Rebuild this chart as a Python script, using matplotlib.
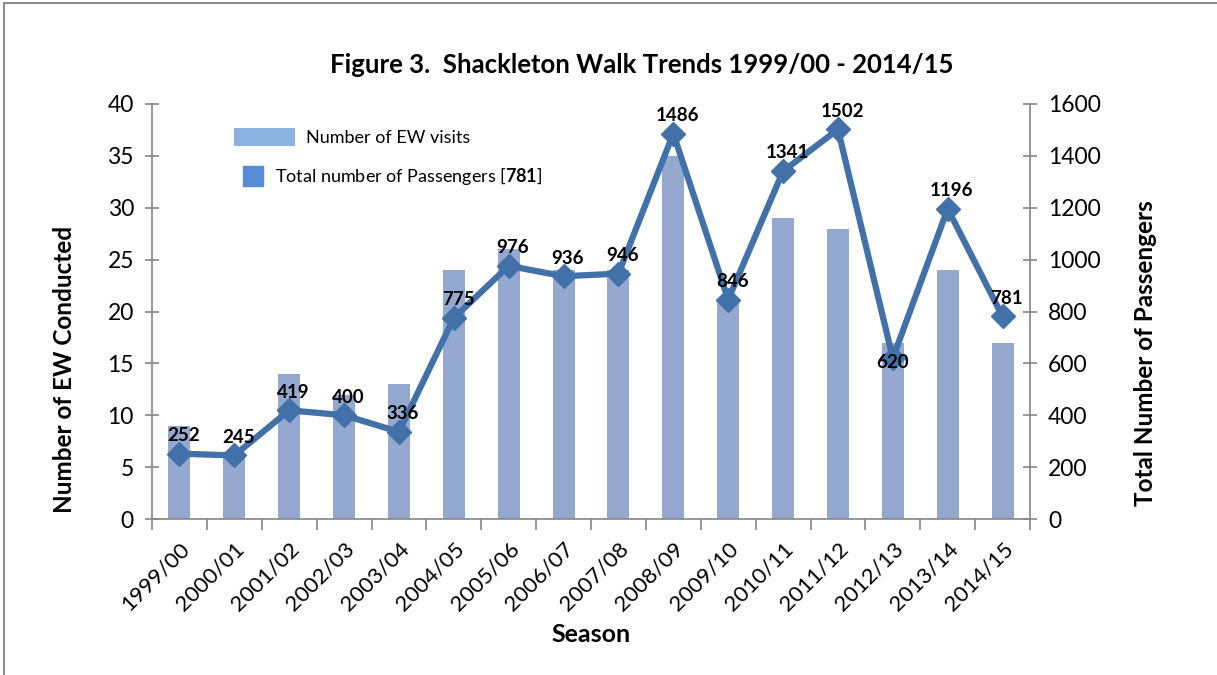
import matplotlib
matplotlib.use("Agg")
import matplotlib.pyplot as plt
from matplotlib.patches import Rectangle, Patch
from matplotlib.lines import Line2D
import numpy as np

seasons = ["1999/00", "2000/01", "2001/02", "2002/03", "2003/04", "2004/05", "2005/06",
           "2006/07", "2007/08", "2008/09", "2009/10", "2010/11", "2011/12", "2012/13",
           "2013/14", "2014/15"]
ew_visits = [9, 6, 14, 12, 13, 24, 26, 24, 24, 35, 21, 29, 28, 17, 24, 17]
passengers = [252, 245, 419, 400, 336, 775, 976, 936, 946, 1486, 846, 1341, 1502, 620, 1196, 781]

FONT = "Lato"
plt.rcParams['font.family'] = [FONT, 'DejaVu Sans']
plt.rcParams['mathtext.fontset'] = 'custom'
plt.rcParams['mathtext.rm'] = FONT
plt.rcParams['mathtext.bf'] = FONT + ':bold'

bar_color = "#95A9D0"
line_color = "#4270A8"
axis_color = "#868686"

fig = plt.figure(figsize=(12.17, 6.75), dpi=100)
ax = fig.add_axes([152/1217, 1-519/675, (1030-152)/1217, (519-104)/675])
ax2 = ax.twinx()

x = np.arange(len(seasons))
ax.bar(x, ew_visits, width=0.4, color=bar_color, zorder=2)
ax.set_ylim(0, 40)
ax.set_yticks(range(0, 41, 5))
ax.set_xlim(-0.5, len(seasons) - 0.5)

ax2.plot(x, passengers, color=line_color, lw=4.5, marker='D', markersize=12,
         markeredgecolor=line_color, zorder=3)
ax2.set_ylim(0, 1600)
ax2.set_yticks(range(0, 1601, 200))

for i, v in enumerate(passengers):
    if v == 620:
        ax2.annotate(str(v), (i, v), xytext=(0, -3), textcoords='offset points',
                     ha='center', va='center', fontsize=13.5, fontweight='bold', zorder=4)
    else:
        ax2.annotate(str(v), (i, v), xytext=(3, 7), textcoords='offset points',
                     ha='center', va='bottom', fontsize=13.5, fontweight='bold', zorder=4)

for a in (ax, ax2):
    a.spines['top'].set_visible(False)
    for s in ['left', 'right', 'bottom']:
        a.spines[s].set_color(axis_color)
        a.spines[s].set_linewidth(1.2)
ax2.spines['left'].set_visible(False)
ax.spines['right'].set_visible(False)
ax2.spines['bottom'].set_visible(False)

ax.tick_params(axis='y', direction='inout', length=10, width=1.2, color=axis_color,
               labelsize=16.5, pad=8)
ax2.tick_params(axis='y', direction='inout', length=10, width=1.2, color=axis_color,
                labelsize=16.5, pad=8)
ax.set_xticks(x)
ax.set_xticklabels(seasons, rotation=45, ha='right', rotation_mode='anchor', fontsize=16)
ax.tick_params(axis='x', length=0, pad=14)
ax.set_xticks(np.arange(-0.5, len(seasons), 1), minor=True)
ax.tick_params(axis='x', which='minor', direction='out', length=8, width=1.2, color=axis_color)

ax.set_ylabel("Number of EW Conducted", fontsize=17.5, fontweight='bold')
ax.yaxis.set_label_coords(-0.086, 0.36)
ax2.set_ylabel("Total Number of Passengers", fontsize=17.5, fontweight='bold')
ax2.yaxis.set_label_coords(1.119, 0.40)
ax.set_xlabel("Season", fontsize=18, fontweight='bold', labelpad=6)
ax.set_title("Figure 3.  Shackleton Walk Trends 1999/00 - 2014/15", fontsize=18.5,
             fontweight='bold', pad=22, x=0.558)

leg1 = ax2.legend([Patch(facecolor="#8DB3E2", edgecolor="none")], ["Number of EW visits"],
                  loc='upper left', bbox_to_anchor=(0.085, 0.96), frameon=False, fontsize=13,
                  handlelength=3.4, handleheight=1.2, handletextpad=0.6, borderaxespad=0)
ax2.add_artist(leg1)
leg2 = ax2.legend([Line2D([], [], color="#558ED5", marker='s', linestyle='none', markersize=15)],
                  [r"Total number of Passengers [$\mathbf{781}$]"],
                  loc='upper left', bbox_to_anchor=(0.095, 0.87), frameon=False, fontsize=13,
                  handlelength=1.2, handletextpad=0.6, borderaxespad=0)

fig.add_artist(Rectangle((4/1217, -0.05), 1.2, 1 - 3/675 + 0.05, transform=fig.transFigure,
                         fill=False, edgecolor="#8C8C8C", linewidth=1.5))

fig.savefig("out.png", dpi=100)
